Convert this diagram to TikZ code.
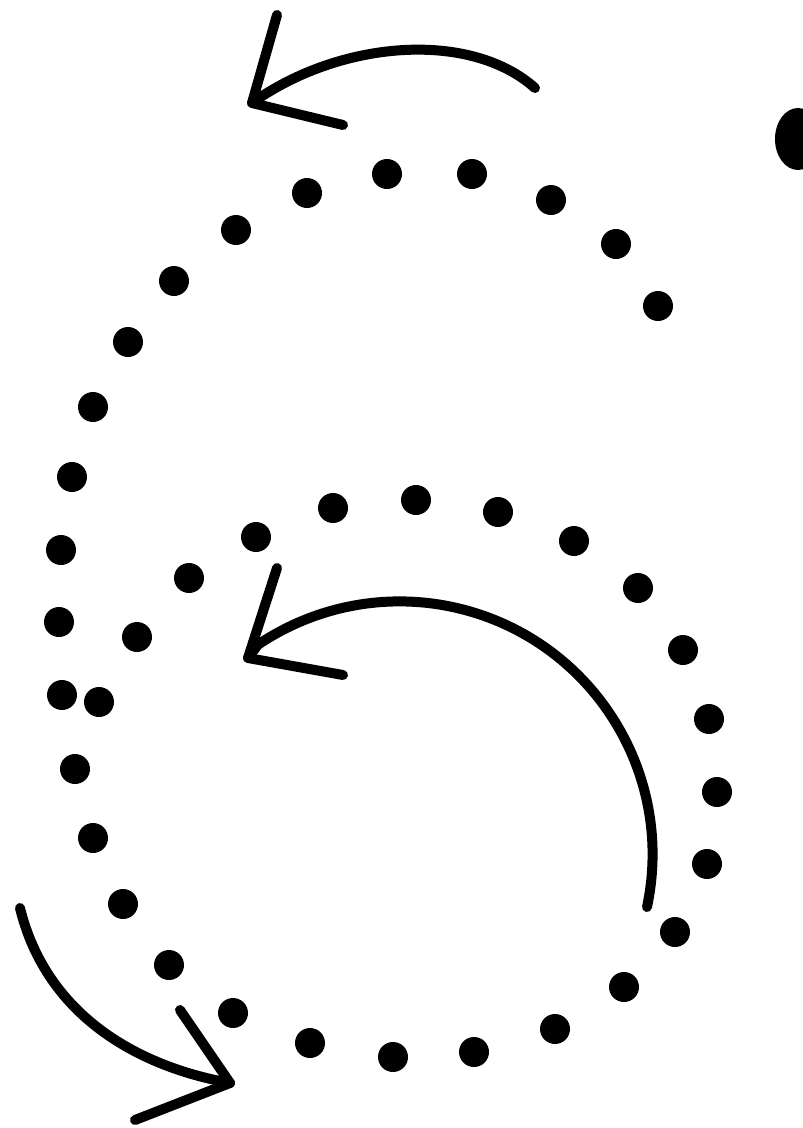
\documentclass[tikz,border=0pt]{standalone}
\usetikzlibrary{shapes.geometric}
\begin{document}
\begin{tikzpicture}[x=1pt,y=-1pt,
  dotnode/.style={circle,fill=black,draw=none,minimum size=30pt,inner sep=0pt},
  stroke/.style={line width=10pt,line cap=round,line join=round,draw=black}]
\useasboundingbox (0,0) rectangle (803,1128);
\clip (0,0) rectangle (803,1128);
% dots of the figure 6
\foreach \px/\py [count=\i] in {658/306,616/244,551/200,472/174,387/174,307/193,236/230,174/281,128/342,93/407,72/477,61/550,59/622,62/695,75/769,93/838,123/904,169/965,233/1013,310/1043,393/1057,474/1052,555/1029,624/987,675/932,707/864,717/792,709/719,683/650,638/588,574/541,498/512,416/500,333/508,256/537,189/578,137/637,99/702}
  \node[dotnode] (d\i) at (\px,\py) {};
% starting blob at top right
\node[ellipse,fill=black,minimum width=46pt,minimum height=62pt,inner sep=0pt] (start) at (798,139) {};
% top arrow
\coordinate (a1s) at (535,88);
\coordinate (a1t) at (252,103);
\coordinate (a1u) at (277,15);
\coordinate (a1l) at (343,125);
\draw[stroke] (a1s) .. controls (470,30) and (340,40) .. (a1t);
\draw[stroke] (a1u) -- (a1t) -- (a1l);
% middle arrow
\coordinate (a2s) at (647,907);
\coordinate (a2t) at (248,658);
\coordinate (a2u) at (277,568);
\coordinate (a2l) at (343,675);
\draw[stroke] (a2s) arc[start angle=12, end angle=-124, radius=253] -- (a2t);
\draw[stroke] (a2u) -- (a2t) -- (a2l);
% bottom-left arrow
\coordinate (a3s) at (20,908);
\coordinate (a3t) at (230,1083);
\coordinate (a3u) at (180,1010);
\coordinate (a3l) at (135,1120);
\draw[stroke] (a3s) .. controls (45,1010) and (130,1065) .. (a3t);
\draw[stroke] (a3u) -- (a3t) -- (a3l);
\end{tikzpicture}
\end{document}
